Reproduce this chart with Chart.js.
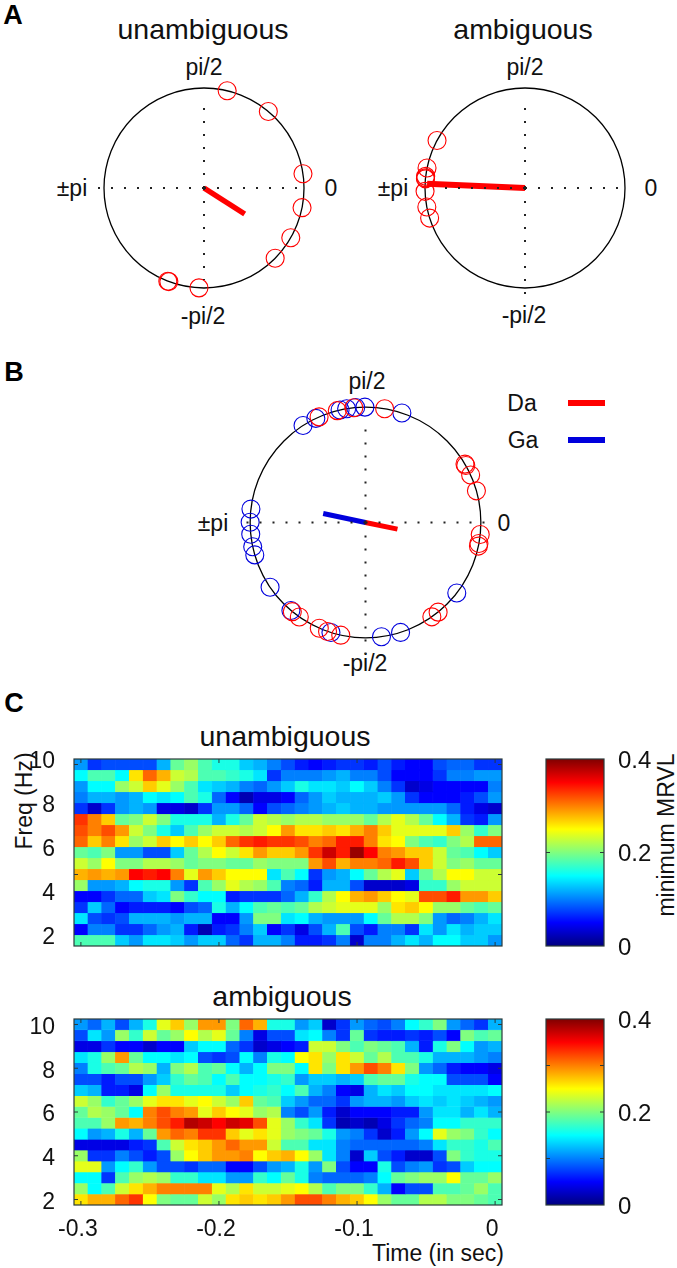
<!DOCTYPE html>
<html>
<head>
<meta charset="utf-8">
<script src="https://cdn.jsdelivr.net/npm/chart.js@4/dist/chart.umd.min.js"></script>
<style>
    html, body { margin: 0; padding: 0; background: #fff; }
    body { position: relative; width: 677px; height: 1268px; overflow: hidden; font-family: "Liberation Sans", Arial, sans-serif; color: #111; }
    canvas { position: absolute; }
    .t { position: absolute; transform: translate(-50%, -50%); white-space: nowrap; line-height: 1; }
    .title { font-size: 28.5px; }
    .lab { font-size: 23px; }
    .panel { font-size: 27px; font-weight: bold; color: #000; }
    .rot { transform: translate(-50%, -50%) rotate(-90deg); }
    .key { position: absolute; left: 568px; width: 37px; height: 6px; }
</style>
</head>
<body>
<div class="t panel" style="left:13px;top:15px">A</div>
<div class="t panel" style="left:14px;top:372px">B</div>
<div class="t panel" style="left:14px;top:703px">C</div>

<div class="t title" style="left:203px;top:29px">unambiguous</div>
<div class="t title" style="left:523px;top:29px">ambiguous</div>
<div class="t lab" style="left:204px;top:67px">pi/2</div>
<div class="t lab" style="left:72px;top:188px">±pi</div>
<div class="t lab" style="left:331px;top:188px">0</div>
<div class="t lab" style="left:203px;top:316px">-pi/2</div>
<div class="t lab" style="left:525px;top:67px">pi/2</div>
<div class="t lab" style="left:393px;top:188px">±pi</div>
<div class="t lab" style="left:651px;top:188px">0</div>
<div class="t lab" style="left:524px;top:315px">-pi/2</div>

<div class="t lab" style="left:367px;top:381px">pi/2</div>
<div class="t lab" style="left:213px;top:523px">±pi</div>
<div class="t lab" style="left:504px;top:523px">0</div>
<div class="t lab" style="left:365px;top:663px">-pi/2</div>
<div class="t lab" style="left:522px;top:403px">Da</div>
<div class="t lab" style="left:523px;top:440px">Ga</div>
<div class="key" style="top:400px;background:#f00"></div>
<div class="key" style="top:437px;background:#00d"></div>

<div class="t title" style="left:285px;top:736px">unambiguous</div>
<div class="t title" style="left:282px;top:996px">ambiguous</div>
<div class="t lab rot" style="left:24px;top:801px">Freq (Hz)</div>
<div class="t lab rot" style="left:666px;top:835px">minimum MRVL</div>
<div class="t lab" style="left:438px;top:1253px">Time (in sec)</div>

<canvas id="polarUnamb" width="280" height="280" style="left:64px;top:48px"></canvas>
<canvas id="polarAmb" width="280" height="280" style="left:385px;top:48px"></canvas>
<canvas id="polarDaGa" width="323" height="323" style="left:204px;top:361px"></canvas>
<canvas id="heatUnamb" width="520" height="230" style="left:0;top:740px"></canvas>
<canvas id="heatAmb" width="520" height="240" style="left:0;top:1000px"></canvas>
<canvas id="barUnamb" width="147" height="230" style="left:530px;top:740px"></canvas>
<canvas id="barAmb" width="147" height="240" style="left:530px;top:1000px"></canvas>

<script>
// Panel A: phases (rad) and mean vectors
const unambPhases = [1.337, 0.872, 0.143, -0.198, -0.52, -0.779, -1.621, -1.941, -1.93];
const unambMean = { angle: -0.569, length: 0.483 };
const ambPhases = [2.646, 2.94, 3.025, 3.05, 3.04, -3.108, -2.95, -2.836];
const ambMean = { angle: 3.098, length: 0.98 };

// Panel B
const daPhases = [1.985, 1.818, 1.672, 1.404, 0.531, 0.517, 0.424, 0.278, -0.104, -0.183, -0.206, -0.958, -0.89, -2.258, -2.182, -1.983, -1.906, -1.787];
const gaPhases = [2.143, 2.016, 1.793, 1.735, 1.656, 1.576, 1.25, 3.025, 3.14, -3.04, -2.93, -2.857, -2.545, -2.274, -1.875, -1.432, -1.262, -0.658];
const daMean = { angle: -0.206, length: 0.283 };
const gaMean = { angle: 2.932, length: 0.375 };

// Panel C: axes
const times = [-0.30, -0.29, -0.28, -0.27, -0.26, -0.25, -0.24, -0.23, -0.22, -0.21, -0.20, -0.19, -0.18, -0.17, -0.16, -0.15, -0.14, -0.13, -0.12, -0.11, -0.10, -0.09, -0.08, -0.07, -0.06, -0.05, -0.04, -0.03, -0.02, -0.01, 0];
const freqs = [10, 9.5, 9, 8.5, 8, 7.5, 7, 6.5, 6, 5.5, 5, 4.5, 4, 3.5, 3, 2.5, 2];
const freqTicks = [2, 4, 6, 8, 10];
const timeTicks = [-0.3, -0.2, -0.1, 0];
const colorTicks = [0, 0.2, 0.4];

// Panel C: minimum MRVL, one row per frequency (10 Hz first)
const unambCells = [
    [.11,.07,.08,.08,.08,.08,.12,.19,.21,.18,.16,.16,.13,.12,.10,.08,.06,.05,.06,.07,.07,.06,.08,.06,.05,.05,.08,.09,.09,.07,.07],
    [.15,.18,.18,.15,.26,.31,.28,.23,.22,.18,.18,.17,.16,.14,.07,.10,.10,.10,.11,.12,.10,.10,.08,.05,.05,.05,.07,.10,.10,.11,.11],
    [.11,.15,.15,.21,.23,.27,.24,.21,.18,.14,.13,.12,.10,.09,.11,.13,.16,.14,.14,.13,.15,.13,.10,.07,.03,.04,.05,.05,.05,.05,.10],
    [.10,.12,.12,.11,.12,.15,.14,.15,.18,.16,.09,.05,.02,.04,.04,.05,.09,.11,.13,.12,.12,.12,.13,.11,.07,.05,.05,.05,.06,.08,.11],
    [.07,.03,.07,.11,.12,.11,.04,.04,.03,.07,.11,.11,.09,.05,.08,.09,.10,.11,.12,.13,.12,.12,.11,.11,.11,.11,.11,.09,.06,.04,.03],
    [.33,.30,.27,.19,.20,.23,.20,.16,.16,.16,.12,.16,.19,.23,.22,.21,.22,.22,.21,.21,.21,.19,.22,.24,.22,.19,.15,.12,.07,.06,.11],
    [.32,.30,.32,.29,.23,.20,.16,.13,.18,.21,.23,.23,.22,.23,.25,.29,.26,.26,.27,.26,.28,.30,.27,.24,.24,.24,.24,.27,.21,.17,.20],
    [.31,.27,.30,.26,.21,.23,.27,.25,.27,.25,.27,.31,.33,.34,.33,.33,.32,.30,.31,.34,.34,.30,.26,.25,.20,.18,.17,.20,.22,.31,.31],
    [.19,.18,.20,.11,.11,.08,.08,.13,.19,.22,.25,.23,.26,.29,.27,.27,.29,.33,.37,.34,.39,.35,.30,.29,.27,.27,.23,.19,.18,.15,.13],
    [.23,.21,.25,.20,.20,.22,.22,.21,.19,.20,.20,.19,.19,.21,.20,.20,.20,.29,.32,.28,.30,.30,.31,.34,.32,.27,.23,.20,.21,.19,.19],
    [.28,.29,.28,.29,.35,.34,.35,.30,.24,.29,.27,.25,.25,.25,.14,.18,.15,.07,.11,.12,.15,.19,.22,.24,.13,.19,.22,.25,.25,.23,.23],
    [.21,.11,.11,.12,.15,.16,.16,.11,.07,.18,.21,.24,.22,.21,.18,.10,.09,.06,.12,.12,.08,.03,.03,.03,.04,.17,.17,.21,.23,.23,.23],
    [.05,.05,.07,.09,.09,.13,.14,.20,.17,.15,.15,.06,.07,.07,.07,.09,.12,.17,.22,.25,.28,.29,.27,.25,.24,.32,.32,.34,.29,.29,.27],
    [.07,.13,.09,.05,.06,.06,.06,.05,.08,.09,.16,.12,.15,.18,.19,.18,.19,.22,.23,.24,.24,.24,.21,.26,.27,.25,.21,.21,.19,.18,.19],
    [.14,.08,.07,.08,.12,.12,.12,.11,.12,.12,.05,.05,.11,.20,.20,.14,.15,.12,.11,.11,.11,.15,.19,.22,.22,.20,.11,.09,.10,.12,.14],
    [.05,.10,.10,.07,.07,.09,.11,.12,.06,.02,.06,.07,.10,.13,.05,.07,.04,.08,.12,.18,.08,.06,.10,.10,.07,.14,.11,.14,.12,.13,.13],
    [.18,.18,.18,.13,.11,.14,.14,.13,.11,.13,.13,.09,.07,.12,.12,.10,.06,.06,.07,.10,.03,.10,.10,.12,.14,.12,.15,.15,.13,.13,.11]
];
const ambCells = [
    [.11,.09,.12,.08,.12,.16,.24,.27,.21,.29,.29,.20,.31,.28,.16,.16,.11,.13,.03,.07,.11,.09,.08,.10,.15,.17,.20,.11,.09,.07,.12],
    [.08,.14,.11,.21,.17,.23,.19,.21,.25,.22,.24,.19,.10,.04,.08,.08,.14,.15,.10,.07,.19,.07,.06,.06,.07,.06,.08,.05,.20,.18,.19],
    [.04,.04,.07,.05,.05,.03,.05,.05,.13,.15,.15,.09,.07,.03,.04,.05,.06,.23,.23,.20,.18,.20,.19,.18,.12,.06,.16,.20,.15,.11,.12],
    [.14,.16,.21,.29,.19,.15,.15,.14,.15,.08,.07,.08,.15,.10,.16,.15,.25,.26,.21,.26,.23,.19,.22,.18,.18,.16,.12,.12,.12,.11,.10],
    [.10,.16,.18,.19,.22,.21,.12,.20,.22,.18,.19,.15,.12,.15,.20,.20,.15,.26,.20,.26,.29,.32,.30,.26,.20,.11,.09,.06,.05,.05,.04],
    [.08,.08,.06,.08,.08,.11,.13,.17,.19,.18,.15,.18,.15,.15,.16,.17,.11,.13,.13,.12,.13,.18,.19,.19,.16,.15,.15,.08,.08,.08,.05],
    [.13,.12,.06,.06,.04,.15,.21,.16,.16,.16,.16,.13,.15,.16,.17,.15,.18,.12,.10,.05,.04,.12,.14,.13,.15,.15,.14,.14,.14,.14,.15],
    [.23,.21,.17,.19,.21,.24,.26,.26,.24,.25,.23,.21,.27,.19,.18,.13,.11,.09,.09,.07,.11,.12,.12,.11,.13,.14,.13,.14,.13,.12,.11],
    [.19,.22,.21,.19,.15,.30,.32,.30,.29,.24,.27,.25,.24,.21,.22,.10,.08,.11,.06,.03,.05,.05,.05,.06,.06,.11,.14,.14,.12,.14,.12],
    [.18,.18,.21,.29,.28,.30,.32,.34,.38,.37,.35,.37,.36,.32,.24,.21,.17,.14,.07,.02,.03,.02,.04,.07,.09,.10,.15,.15,.17,.17,.17],
    [.15,.11,.12,.16,.12,.19,.29,.31,.30,.33,.33,.27,.24,.26,.24,.21,.20,.19,.16,.11,.10,.07,.03,.06,.11,.15,.24,.21,.20,.17,.15],
    [.04,.04,.04,.04,.06,.07,.18,.23,.26,.27,.29,.31,.29,.29,.23,.18,.18,.14,.14,.10,.09,.09,.09,.09,.09,.10,.14,.17,.17,.16,.18],
    [.21,.07,.07,.10,.08,.06,.08,.21,.25,.27,.29,.29,.30,.25,.27,.28,.25,.21,.14,.10,.03,.13,.08,.06,.03,.03,.08,.20,.17,.16,.16],
    [.24,.24,.11,.15,.17,.11,.08,.08,.07,.09,.09,.05,.05,.08,.11,.12,.16,.11,.20,.08,.05,.05,.16,.08,.10,.11,.07,.08,.13,.15,.15],
    [.15,.15,.07,.18,.21,.22,.21,.17,.17,.14,.14,.11,.11,.17,.15,.19,.16,.10,.09,.09,.09,.10,.15,.19,.20,.21,.21,.25,.19,.19,.21],
    [.21,.15,.18,.23,.26,.28,.30,.30,.30,.30,.24,.22,.26,.23,.23,.24,.25,.22,.18,.20,.20,.17,.12,.05,.08,.08,.18,.18,.19,.21,.18],
    [.26,.28,.28,.31,.33,.25,.20,.19,.19,.23,.21,.26,.27,.26,.27,.29,.32,.32,.30,.28,.27,.25,.21,.19,.19,.22,.22,.20,.20,.19,.18]
];

const RED = '#ff0000';
const BLUE = '#0000dd';
const FRAME = '#2b3a3a';
const COLOR_MAX = 0.4;

// Colores jet como en MATLAB
const jetStops = [[0, '#000080'], [0.125, '#0000ff'], [0.375, '#00ffff'], [0.625, '#ffff00'], [0.875, '#ff0000'], [1, '#800000']];

function jet(v) {
    const t = Math.max(0, Math.min(1, v / COLOR_MAX));
    const c = center => Math.round(255 * Math.max(0, Math.min(1, 1.5 - Math.abs(4 * t - center))));
    return `rgb(${c(3)}, ${c(2)}, ${c(1)})`;
}

// Circulo unidad de los paneles polares
const unitCircle = {
    id: 'unitCircle',
    beforeDatasetsDraw(chart) {
        const { ctx, scales } = chart;
        const cx = scales.x.getPixelForValue(0);
        const cy = scales.y.getPixelForValue(0);
        const r = scales.x.getPixelForValue(1) - cx;
        ctx.save();
        ctx.strokeStyle = '#000';
        ctx.lineWidth = 1.3;
        ctx.beginPath();
        ctx.arc(cx, cy, r, 0, Math.PI * 2);
        ctx.stroke();
        ctx.restore();
    }
};

// Marco y marcas hacia dentro de los paneles C
const frameTicks = {
    id: 'frameTicks',
    afterDatasetsDraw(chart, args, opts) {
        const { ctx, chartArea: a, scales } = chart;
        ctx.save();
        ctx.strokeStyle = FRAME;
        ctx.lineWidth = 1;
        ctx.beginPath();
        (opts.xMarks || []).forEach(v => {
            const x = scales.x.getPixelForValue(v);
            ctx.moveTo(x, a.top); ctx.lineTo(x, a.top + 4);
            ctx.moveTo(x, a.bottom); ctx.lineTo(x, a.bottom - 4);
        });
        (opts.yMarks || []).forEach(v => {
            const y = scales.y.getPixelForValue(v);
            ctx.moveTo(a.left, y); ctx.lineTo(a.left + 4, y);
            ctx.moveTo(a.right, y); ctx.lineTo(a.right - 4, y);
        });
        ctx.stroke();
        ctx.lineWidth = 1.2;
        ctx.strokeRect(a.left, a.top, a.right - a.left, a.bottom - a.top);
        ctx.restore();
    }
};

function phasePoints(phases) {
    return phases.map(p => ({ x: Math.cos(p), y: Math.sin(p) }));
}

function meanLine(mean, color, width) {
    return {
        type: 'line',
        data: [{ x: 0, y: 0 }, { x: mean.length * Math.cos(mean.angle), y: mean.length * Math.sin(mean.angle) }],
        borderColor: color,
        borderWidth: width,
        pointRadius: 0,
        borderCapStyle: 'butt'
    };
}

function phaseCircles(phases, color) {
    return {
        data: phasePoints(phases),
        showLine: false,
        pointStyle: 'circle',
        pointRadius: 9,
        pointBackgroundColor: 'rgba(0,0,0,0)',
        pointBorderColor: color,
        pointBorderWidth: 1.1
    };
}

function dottedSpoke(x, y) {
    return {
        type: 'line',
        data: [{ x: 0, y: 0 }, { x, y }],
        borderColor: '#222',
        borderWidth: 2,
        borderDash: [2, 11],
        pointRadius: 0
    };
}

function drawPolar(id, reach, groups, means, meanWidth) {
    const spokes = [dottedSpoke(reach[0], 0), dottedSpoke(reach[1], 0), dottedSpoke(0, reach[2]), dottedSpoke(0, reach[3])];
    const circles = groups.map(g => phaseCircles(g.phases, g.color));
    const lines = means.map(m => meanLine(m.mean, m.color, meanWidth));
    new Chart(document.getElementById(id), {
        type: 'scatter',
        data: { datasets: [...spokes, ...circles, ...lines] },
        options: {
            responsive: false,
            animation: false,
            layout: { padding: 0, autoPadding: false },
            plugins: { legend: { display: false }, tooltip: { enabled: false } },
            scales: {
                x: { display: false, min: -1.4, max: 1.4 },
                y: { display: false, min: -1.4, max: 1.4 }
            }
        },
        plugins: [unitCircle]
    });
}

function drawHeatmap(id, cells, opts) {
    const datasets = freqs.map((f, r) => ({
        data: times.map(() => [f - 0.25, f + 0.25]),
        backgroundColor: cells[r].map(jet),
        borderColor: cells[r].map(jet),
        borderWidth: 0.4,
        borderSkipped: false,
        barPercentage: 1,
        categoryPercentage: 1,
        grouped: false
    }));
    new Chart(document.getElementById(id), {
        type: 'bar',
        data: { labels: times, datasets },
        options: {
            responsive: false,
            animation: false,
            layout: { padding: { top: 19, right: 18, bottom: 0, left: 0 }, autoPadding: false },
            plugins: {
                legend: { display: false },
                tooltip: { enabled: false },
                frameTicks: { xMarks: timeTicks.map(t => times.indexOf(t)), yMarks: opts.yMarks }
            },
            scales: {
                x: {
                    grid: { display: false },
                    border: { display: false },
                    afterFit: s => { s.height = opts.xHeight; s.paddingLeft = 0; s.paddingRight = 0; },
                    ticks: {
                        display: opts.showTime,
                        autoSkip: false,
                        maxRotation: 0,
                        padding: 3,
                        labelOffset: -3,
                        color: '#111',
                        font: { family: 'Liberation Sans', size: 23 },
                        callback: (value, i) => (timeTicks.includes(times[i]) ? String(times[i]) : '')
                    }
                },
                y: {
                    min: 1.75,
                    max: 10.25,
                    grid: { display: false },
                    border: { display: false },
                    afterFit: s => { s.width = 74; s.paddingTop = 0; s.paddingBottom = 0; },
                    afterBuildTicks: s => { s.ticks = freqTicks.map(v => ({ value: v })); },
                    ticks: {
                        padding: 11,
                        labelOffset: opts.labelShift,
                        color: '#111',
                        font: { family: 'Liberation Sans', size: 23 }
                    }
                }
            }
        },
        plugins: [frameTicks]
    });
}

function jetGradient(context) {
    const { ctx, chartArea: a } = context.chart;
    if (!a) return '#000';
    const g = ctx.createLinearGradient(0, a.bottom, 0, a.top);
    jetStops.forEach(s => g.addColorStop(s[0], s[1]));
    return g;
}

function drawColorbar(id, xHeight, marks) {
    new Chart(document.getElementById(id), {
        type: 'bar',
        data: {
            labels: ['minimum MRVL'],
            datasets: [{ data: [[colorTicks[0], colorTicks[2]]], backgroundColor: jetGradient, barPercentage: 1, categoryPercentage: 1 }]
        },
        options: {
            responsive: false,
            animation: false,
            layout: { padding: { top: 19, right: 0, bottom: 0, left: 16 }, autoPadding: false },
            plugins: {
                legend: { display: false },
                tooltip: { enabled: false },
                frameTicks: { yMarks: marks }
            },
            scales: {
                x: {
                    grid: { display: false },
                    border: { display: false },
                    ticks: { display: false },
                    afterFit: s => { s.height = xHeight; }
                },
                y: {
                    position: 'right',
                    min: colorTicks[0],
                    max: colorTicks[2],
                    grid: { display: false },
                    border: { display: false },
                    afterFit: s => { s.width = 73; s.paddingTop = 0; s.paddingBottom = 0; },
                    afterBuildTicks: s => { s.ticks = colorTicks.map(v => ({ value: v })); },
                    ticks: {
                        padding: 6,
                        labelOffset: 2,
                        color: '#111',
                        font: { family: 'Liberation Sans', size: 24 },
                        callback: v => String(v)
                    }
                }
            }
        },
        plugins: [frameTicks]
    });
}

drawPolar('polarUnamb', [-1.09, 0.97, 0.88, -0.92], [{ phases: unambPhases, color: RED }], [{ mean: unambMean, color: RED }], 5.5);
drawPolar('polarAmb', [-0.85, 0.97, 0.88, -1.08], [{ phases: ambPhases, color: RED }], [{ mean: ambMean, color: RED }], 6);
drawPolar('polarDaGa', [-1.09, 1.08, 0.83, -1.14],
    [{ phases: daPhases, color: RED }, { phases: gaPhases, color: BLUE }],
    [{ mean: daMean, color: RED }, { mean: gaMean, color: BLUE }], 5);

drawHeatmap('heatUnamb', unambCells, { xHeight: 24, showTime: false, yMarks: [10, 5], labelShift: -3 });
drawHeatmap('heatAmb', ambCells, { xHeight: 35, showTime: true, yMarks: freqTicks, labelShift: 3 });
drawColorbar('barUnamb', 24, [0.2]);
drawColorbar('barAmb', 35, [0.1, 0.2, 0.3]);
</script>
</body>
</html>
